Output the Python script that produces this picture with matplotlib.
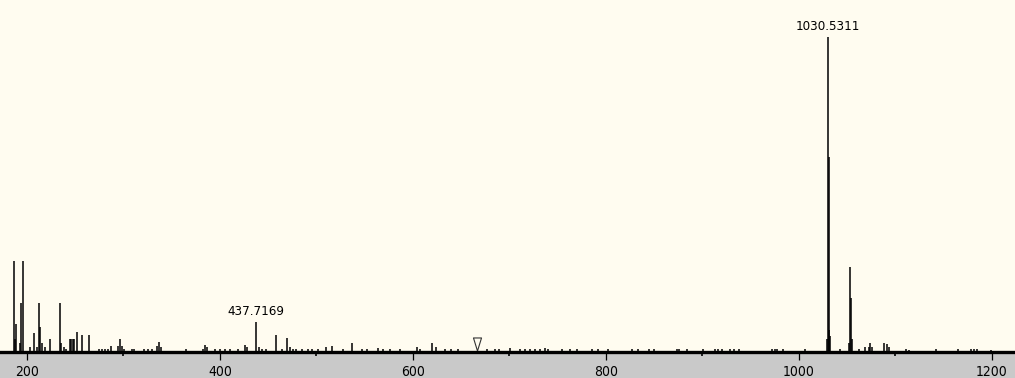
import matplotlib
matplotlib.use("Agg")
import matplotlib.pyplot as plt
from matplotlib.path import Path

# ---- spectrum data (m/z, relative intensity %) ----
mz = [
    186.4, 187.1, 188.4, 192.3, 194.0, 195.7, 202.6, 207.5, 209.9, 212.7,
    213.7, 215.1, 218.2, 223.4, 234.1, 235.3, 237.9, 240.0, 244.1, 245.7,
    247.2, 248.8, 251.4, 256.9, 264.1, 274.2, 277.3, 280.4, 283.5, 286.6,
    293.9, 295.9, 298.0, 300.1, 308.4, 310.5, 320.8, 325.0, 329.1, 334.3,
    336.4, 338.4, 365.1, 382.0, 384.1, 386.1, 394.4, 399.6, 404.8, 410.0,
    418.3, 425.5, 427.6, 437.7169, 440.0, 443.1, 447.3, 458.4, 463.9, 469.4,
    472.2, 475.3, 478.4, 484.6, 490.8, 495.0, 501.2, 509.5, 515.7, 527.1,
    536.4, 546.8, 552.0, 563.4, 568.6, 575.8, 586.2, 603.8, 606.9, 620.1,
    624.2, 632.8, 639.8, 646.3, 676.4, 684.7, 689.8, 700.2, 710.6, 715.8,
    721.0, 726.1, 731.3, 736.5, 739.6, 754.1, 762.4, 769.7, 785.2, 791.4,
    801.8, 826.7, 832.9, 845.3, 849.5, 873.3, 876.4, 883.7, 900.3, 912.7,
    915.8, 920.0, 928.3, 933.4, 938.6, 971.8, 974.9, 977.0, 983.2, 1006.0,
    1029.6, 1030.5311, 1031.03, 1031.6, 1032.1, 1042.3, 1051.7, 1052.7, 1053.7, 1054.8,
    1063.0, 1069.2, 1072.4, 1074.1, 1075.5, 1088.9, 1091.0, 1093.1, 1110.7, 1114.8,
    1142.5, 1164.6, 1179.1, 1182.2, 1184.3, 1199.8,
]
intensity = [
    28.8, 4.0, 9.0, 3.0, 15.5, 28.8, 1.5, 6.0, 1.5, 15.5,
    8.0, 3.0, 1.5, 4.0, 15.5, 3.0, 1.5, 1.0, 4.0, 4.0,
    4.0, 4.0, 6.4, 5.5, 5.5, 1.0, 1.0, 1.0, 1.0, 2.0,
    2.0, 4.0, 2.0, 1.0, 1.0, 1.0, 1.0, 1.0, 1.0, 2.0,
    3.2, 1.5, 1.0, 1.0, 2.3, 1.5, 1.0, 1.0, 1.0, 1.0,
    1.0, 2.3, 1.5, 9.4, 1.5, 1.0, 1.0, 5.4, 1.0, 4.6,
    1.5, 1.0, 1.0, 1.0, 1.0, 1.0, 1.0, 1.5, 2.0, 1.0,
    2.7, 1.0, 1.0, 1.2, 1.0, 1.0, 1.0, 1.5, 1.0, 3.0,
    1.5, 1.0, 1.0, 1.0, 1.0, 1.0, 1.0, 1.3, 0.8, 0.8,
    0.8, 0.8, 0.8, 1.3, 1.0, 0.8, 0.8, 0.8, 0.8, 0.8,
    0.8, 0.8, 0.8, 0.8, 0.8, 0.8, 0.8, 0.8, 0.8, 1.0,
    1.0, 1.0, 0.8, 0.8, 0.8, 1.0, 1.0, 1.0, 0.8, 1.0,
    4.0, 100.0, 62.0, 7.0, 5.0, 1.0, 3.0, 27.0, 17.0, 4.0,
    1.0, 1.5, 1.5, 2.7, 1.5, 2.9, 2.5, 1.5, 1.0, 0.5,
    1.0, 0.8, 1.0, 1.0, 1.0, 0.7,
]

labelled_peaks = [1030.5311, 437.7169]
labelled_heights = [100.0, 9.4]

precursor_mz = 667.0
precursor_level = 2.6

x_range = (172.0, 1224.2)
y_top = 111.7
major_ticks = [200, 400, 600, 800, 1000, 1200]
minor_ticks = [300, 500, 700, 900, 1100]

# ---- styling ----
PLOT_BG = "#FFFCF0"
STRIP_BG = "#C9C9C9"
FONT = dict(family="DejaVu Sans", stretch="condensed")

W, H, DPI = 1015, 378, 100
fig = plt.figure(figsize=(W / DPI, H / DPI), dpi=DPI, facecolor=STRIP_BG)
ax = fig.add_axes([0.0, 26 / H, 1.0, 352 / H])
ax.set_facecolor(PLOT_BG)

ax.vlines(mz, 0, intensity, colors="black", linewidth=1.1)

for m, h in zip(labelled_peaks, labelled_heights):
    ax.annotate(f"{m:.4f}", xy=(m, h), xytext=(0, 3), textcoords="offset points",
                ha="center", va="bottom", fontsize=9.5, color="black", **FONT)

# outlined downward triangle marking the precursor position
tri = Path([(-4, 6.5), (4, 6.5), (0, -6.5), (-4, 6.5)],
           [Path.MOVETO, Path.LINETO, Path.LINETO, Path.CLOSEPOLY])
ax.plot([precursor_mz], [precursor_level], marker=tri, markersize=9.4,
        markerfacecolor="none", markeredgecolor="#333333", markeredgewidth=0.8,
        linestyle="none", clip_on=False)

ax.set_xlim(*x_range)
ax.set_ylim(0, y_top)

for side in ("top", "right", "left"):
    ax.spines[side].set_visible(False)
ax.spines["bottom"].set_linewidth(2.4)
ax.spines["bottom"].set_color("black")

ax.set_yticks([])
ax.set_xticks(major_ticks)
ax.set_xticklabels([str(t) for t in major_ticks], fontsize=10, **FONT)
ax.set_xticks(minor_ticks, minor=True)
ax.tick_params(axis="x", which="major", length=6, width=0.9, color="black", pad=3.5)
ax.tick_params(axis="x", which="minor", length=3, width=1.2, color="black")

fig.savefig("out.png", dpi=DPI, facecolor=STRIP_BG)
